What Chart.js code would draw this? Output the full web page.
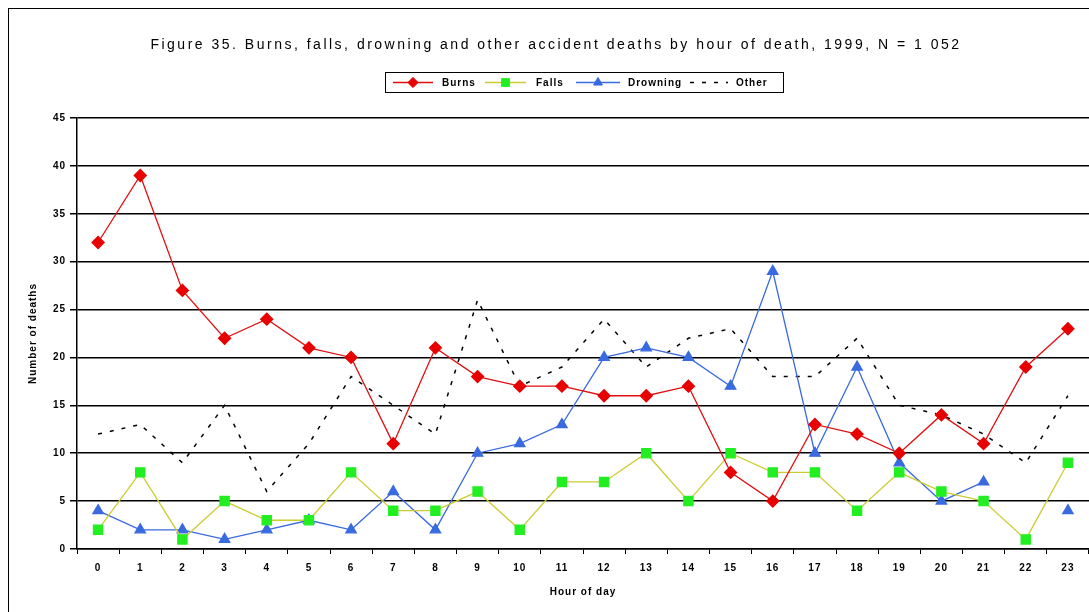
<!DOCTYPE html>
<html><head><meta charset="utf-8">
<script src="https://cdn.jsdelivr.net/npm/chart.js@4.4.1/dist/chart.umd.min.js"></script>
<style>html,body{margin:0;padding:0;background:#fff}#wrap{width:1089px;height:612px;position:relative}canvas{display:block}</style>
</head><body>
<div id="wrap"><canvas id="c" width="1089" height="612"></canvas></div>
<script>
const titleText = 'Figure 35. Burns, falls, drowning and other accident deaths by hour of death, 1999, N = 1 052';
const hours = ['0','1','2','3','4','5','6','7','8','9','10','11','12','13','14','15','16','17','18','19','20','21','22','23'];
const burns = [32,39,27,22,24,21,20,11,21,18,17,17,16,16,17,8,5,13,12,10,14,11,19,23];
const falls = [2,8,1,5,3,3,8,4,4,6,2,7,7,10,5,10,8,8,4,8,6,5,1,9];
const drowning = [4,2,2,1,2,3,2,6,2,10,11,13,20,21,20,17,29,10,19,9,5,7,null,4];
const other = [12,13,9,15,6,11,18,15,12,26,17,19,24,19,22,23,18,18,22,15,14,12,9,16];
const seriesNames = ['Burns','Falls','Drowning','Other'];
const yTicks = [0,5,10,15,20,25,30,35,40,45];

const FONT = '"Liberation Sans", Arial, sans-serif';

const spacingPlugin = {
  id: 'spacing',
  beforeLayout(chart){ chart.ctx.letterSpacing = '1px'; },
  beforeDraw(chart){ chart.ctx.letterSpacing = '1px'; }
};

const decorPlugin = {
  id: 'decor',
  afterDraw(chart){
    const ctx = chart.ctx;
    ctx.save();
    // outer border
    ctx.strokeStyle = '#000'; ctx.lineWidth = 1;
    ctx.strokeRect(8.5, 8.5, 1200, 700);
    // title
    ctx.letterSpacing = '2.5px';
    ctx.fillStyle = '#000';
    ctx.font = '14px ' + FONT;
    ctx.textAlign = 'center'; ctx.textBaseline = 'middle';
    ctx.fillText(titleText, 556, 45);
    // legend
    ctx.letterSpacing = '1px';
    const bx = 385.5, by = 72.5, bw = 398, bh = 20;
    ctx.lineWidth = 1; ctx.strokeStyle = '#000';
    ctx.strokeRect(bx, by, bw, bh);
    const cy = by + bh/2;
    const items = [
      {x1:393, x2:433, tx:442},
      {x1:485, x2:526, tx:536},
      {x1:576, x2:620, tx:628},
      {x1:690, x2:728, tx:736}
    ];
    ctx.font = 'bold 10px ' + FONT;
    ctx.textAlign = 'left';
    chart.data.datasets.forEach((ds, i) => {
      const it = items[i];
      ctx.save();
      ctx.strokeStyle = ds.borderColor; ctx.lineWidth = ds.borderWidth;
      ctx.setLineDash(ds.borderDash || []);
      ctx.beginPath(); ctx.moveTo(it.x1, cy); ctx.lineTo(it.x2, cy); ctx.stroke();
      ctx.restore();
      if (ds.pointStyle && ds.pointRadius > 0) {
        ctx.save();
        ctx.fillStyle = ds.pointBackgroundColor; ctx.strokeStyle = ds.pointBorderColor; ctx.lineWidth = 1;
        Chart.helpers.drawPoint(ctx, {pointStyle: ds.pointStyle, radius: ds.pointRadius*0.85, borderWidth: 1, rotation: 0}, (it.x1+it.x2)/2, cy);
        ctx.restore();
      }
      ctx.fillStyle = '#000';
      ctx.fillText(ds.label, it.tx, cy + 0.5);
    });
    ctx.restore();
  }
};

new Chart(document.getElementById('c'), {
  type: 'line',
  data: {
    labels: hours,
    datasets: [
      {label: seriesNames[0], data: burns, borderColor: '#e01010', backgroundColor: '#e80000', borderWidth: 1.3,
       pointStyle: 'rectRot', pointRadius: 6, pointBackgroundColor: '#e80000', pointBorderColor: '#e80000', tension: 0},
      {label: seriesNames[1], data: falls, borderColor: '#cccc30', backgroundColor: '#22ee22', borderWidth: 1.3,
       pointStyle: 'rect', pointRadius: 6.5, pointBackgroundColor: '#22ee22', pointBorderColor: '#22ee22', tension: 0},
      {label: seriesNames[2], data: drowning, borderColor: '#3a6ae0', backgroundColor: '#3a6ae0', borderWidth: 1.3,
       pointStyle: 'triangle', pointRadius: 6, pointBackgroundColor: '#3a6ae0', pointBorderColor: '#3a6ae0', tension: 0, spanGaps: false},
      {label: seriesNames[3], data: other, borderColor: '#000', backgroundColor: '#000', borderWidth: 1.5,
       borderDash: [4, 8], pointRadius: 0, pointStyle: false, tension: 0}
    ]
  },
  options: {
    responsive: false, animation: false, devicePixelRatio: 1,
    layout: {padding: {top: 118, left: 0, right: 0, bottom: 0}, autoPadding: false},
    plugins: {legend: {display: false}, title: {display: false}, tooltip: {enabled: false}},
    scales: {
      x: {
        type: 'category', offset: true,
        grid: {offset: true, drawOnChartArea: false, drawTicks: true, tickLength: 5, color: '#000', lineWidth: 1},
        border: {display: true, color: '#000', width: 1.5},
        ticks: {color: '#000', font: {family: FONT, size: 10, weight: 'bold'}, padding: 8, maxRotation: 0, autoSkip: false},
        title: {display: true, text: 'Hour of day', color: '#000', font: {family: FONT, size: 10, weight: 'bold'}, padding: {top: 14, bottom: 14}},
        afterFit(s){ s.height = 63; s.paddingLeft = 0; s.paddingRight = 0; }
      },
      y: {
        min: 0, max: 45,
        afterBuildTicks(s){ s.ticks = yTicks.map(v => ({value: v})); },
        grid: {color: '#000', lineWidth: 1.5, drawTicks: true, tickLength: 7},
        border: {display: true, color: '#000', width: 1.5},
        ticks: {color: '#000', font: {family: FONT, size: 10, weight: 'bold'}, padding: 4},
        title: {display: true, text: 'Number of deaths', color: '#000', font: {family: FONT, size: 10, weight: 'bold'}, padding: {top: 27, bottom: 0}},
        afterFit(s){ s.width = 77; s.paddingTop = 0; s.paddingBottom = 0; }
      }
    }
  },
  plugins: [spacingPlugin, decorPlugin]
});
</script>
</body></html>
